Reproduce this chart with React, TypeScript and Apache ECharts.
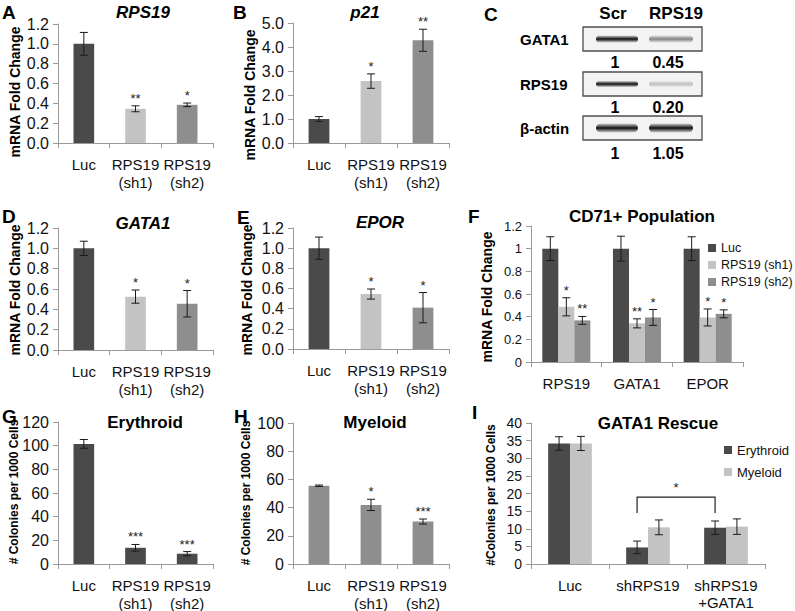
import React, { useEffect, useRef } from "react";
import * as echarts from "echarts";

const FONT = "'Liberation Sans', Arial, Helvetica, sans-serif";

// ---------- data ----------
const catsSh = ["Luc", "RPS19\n(sh1)", "RPS19\n(sh2)"];

// A: RPS19
const aMeans = [1.0, 0.345, 0.385];
const aErrs = [0.115, 0.03, 0.018];
const aStars = ["", "**", "*"];
// B: p21
const bMeans = [1.0, 2.58, 4.28];
const bErrs = [0.1, 0.3, 0.46];
const bStars = ["", "*", "**"];
// C: western blot
const blotLanes = ["Scr", "RPS19"];
const blotRows = ["GATA1", "RPS19", "β-actin"];
const blotQuant = [
  [1, 0.45],
  [1, 0.2],
  [1, 1.05],
];
const blotQuantLabels = [
  ["1", "0.45"],
  ["1", "0.20"],
  ["1", "1.05"],
];
// D: GATA1
const dMeans = [1.0, 0.525, 0.455];
const dErrs = [0.07, 0.065, 0.13];
const dStars = ["", "*", "*"];
// E: EPOR
const eMeans = [1.0, 0.545, 0.41];
const eErrs = [0.11, 0.05, 0.15];
const eStars = ["", "*", "*"];
// F: CD71+ population
const fCats = ["RPS19", "GATA1", "EPOR"];
const fNames = ["Luc", "RPS19 (sh1)", "RPS19 (sh2)"];
const fLuc = [1.0, 1.0, 1.0];
const fLucErr = [0.105, 0.11, 0.105];
const fSh1 = [0.487, 0.341, 0.393];
const fSh1Err = [0.08, 0.04, 0.075];
const fSh2 = [0.367, 0.393, 0.425];
const fSh2Err = [0.035, 0.07, 0.035];
const fSh1Stars = ["*", "**", "*"];
const fSh2Stars = ["**", "*", "*"];
// G: Erythroid
const gMeans = [101.5, 13.7, 8.7];
const gErrs = [3.7, 2.8, 1.8];
const gStars = ["", "***", "***"];
// H: Myeloid
const hMeans = [55.5, 41.9, 30.1];
const hErrs = [0.5, 4.0, 1.8];
const hStars = ["", "*", "***"];
// I: GATA1 rescue
const iCats = ["Luc", "shRPS19", "shRPS19\n+GATA1"];
const iNames = ["Erythroid", "Myeloid"];
const iEry = [34.2, 4.7, 10.3];
const iEryErr = [1.9, 1.8, 1.9];
const iMye = [34.2, 10.4, 10.6];
const iMyeErr = [2.0, 2.1, 2.2];
const iBracket = [1, 2, 19, 14.5]; // from category, to category, top value, leg value
const iBracketStar = "*";

// ---------- styles ----------
const DARK = "#4a4a4a";
const LIGHT = "#c3c3c3";
const MID = "#8e8e8e";
const AXIS = "#9a9a9a";

function xAx(gi: number, cats: string[], fontSize = 15, margin = 12, lineHeight = 18) {
  return {
    type: "category",
    gridIndex: gi,
    data: cats,
    axisLine: { show: true, lineStyle: { color: AXIS, width: 1 } },
    axisTick: { show: true, length: 5, lineStyle: { color: AXIS } },
    axisLabel: { color: "#111", fontSize, fontFamily: FONT, margin, lineHeight, interval: 0 },
    splitLine: { show: false },
  };
}

function yAx(gi: number, max: number, interval: number, fmt: (v: number) => string, fontSize = 16) {
  return {
    type: "value",
    gridIndex: gi,
    min: 0,
    max,
    interval,
    axisLine: { show: true, lineStyle: { color: AXIS, width: 1 } },
    axisTick: { show: true, length: 5, lineStyle: { color: AXIS } },
    splitLine: { show: false },
    axisLabel: { color: "#111", fontSize, fontFamily: FONT, margin: 9, formatter: fmt },
  };
}

const fmt1 = (v: number) => v.toFixed(1);
const fmtN = (v: number) => String(+v.toFixed(1));
const fmt0 = (v: number) => String(Math.round(v));

function singleBar(gi: number, name: string, means: number[], colors: string[], gap: string) {
  return {
    type: "bar",
    name,
    xAxisIndex: gi,
    yAxisIndex: gi,
    barCategoryGap: gap,
    data: means.map((v, i) => ({ value: v, itemStyle: { color: colors[i] } })),
  };
}

function groupBar(gi: number, name: string, means: number[], color: string, gap: string) {
  return {
    type: "bar",
    name,
    xAxisIndex: gi,
    yAxisIndex: gi,
    barCategoryGap: gap,
    barGap: "0%",
    itemStyle: { color },
    data: means,
  };
}

function errSeries(
  gi: number,
  name: string,
  means: number[],
  errs: number[],
  stars: string[],
  sIdx = 0,
  nS = 1,
  gapFrac = 0.6,
  starSize = 13
) {
  return {
    type: "custom",
    name,
    xAxisIndex: gi,
    yAxisIndex: gi,
    z: 10,
    silent: true,
    data: means.map((m, i) => [i, m - errs[i], m + errs[i]]),
    renderItem: (params: any, api: any) => {
      const ci = api.value(0);
      const lo = api.coord([ci, api.value(1)]);
      const hi = api.coord([ci, api.value(2)]);
      const band = api.size([1, 0])[0];
      const bw = (band * (1 - gapFrac)) / nS;
      const x = lo[0] + (sIdx - (nS - 1) / 2) * bw;
      const cap = 4;
      const st = { stroke: "#1a1a1a", lineWidth: 1 };
      const children: any[] = [
        { type: "line", shape: { x1: x, y1: lo[1], x2: x, y2: hi[1] }, style: st },
        { type: "line", shape: { x1: x - cap, y1: hi[1], x2: x + cap, y2: hi[1] }, style: st },
        { type: "line", shape: { x1: x - cap, y1: lo[1], x2: x + cap, y2: lo[1] }, style: st },
      ];
      const s = stars[params.dataIndex];
      if (s) {
        children.push({
          type: "text",
          style: {
            text: s,
            x,
            y: hi[1] - 1,
            align: "center",
            verticalAlign: "bottom",
            font: `${starSize}px ${FONT}`,
            fill: "#222",
          },
        });
      }
      return { type: "group", children };
    },
  };
}

function bracketSeries(gi: number, spec: number[], star: string, nS: number, gapFrac: number) {
  return {
    type: "custom",
    name: "bracket",
    xAxisIndex: gi,
    yAxisIndex: gi,
    z: 11,
    silent: true,
    data: [spec],
    renderItem: (params: any, api: any) => {
      const band = api.size([1, 0])[0];
      const bw = (band * (1 - gapFrac)) / nS;
      const off = (0 - (nS - 1) / 2) * bw;
      const p1 = api.coord([api.value(0), api.value(2)]);
      const p2 = api.coord([api.value(1), api.value(2)]);
      const leg = api.coord([api.value(0), api.value(3)]);
      const x1 = p1[0] + off;
      const x2 = p2[0] + off;
      return {
        type: "group",
        children: [
          {
            type: "polyline",
            shape: { points: [[x1, leg[1]], [x1, p1[1]], [x2, p1[1]], [x2, leg[1]]] },
            style: { stroke: "#222", lineWidth: 1.2, fill: null },
          },
          {
            type: "text",
            style: {
              text: star,
              x: (x1 + x2) / 2,
              y: p1[1] - 3,
              align: "center",
              verticalAlign: "bottom",
              font: `13px ${FONT}`,
              fill: "#222",
            },
          },
        ],
      };
    },
  };
}

function txt(text: string, x: number, y: number, font: string, align = "center", rotation = 0, vAlign = "middle") {
  return {
    type: "text",
    x,
    y,
    rotation,
    silent: true,
    style: { text, font, fill: "#000", align, verticalAlign: vAlign },
  };
}

function blotGraphics() {
  const els: any[] = [];
  const boxX = 583;
  const boxW = 119;
  const boxH = 24;
  const rowTop = [27, 72, 116];
  const quantY = [62, 107, 153];
  const laneX = [617, 671];
  const headX = [613, 676];
  const quantX = [615, 668];
  const bandW = [42, 44];
  const bandH = [7, 6, 9];
  blotLanes.forEach((l, j) => els.push(txt(l, headX[j], 13, `bold 17px ${FONT}`)));
  blotRows.forEach((r, i) => {
    const top = rowTop[i];
    els.push(txt(r, 520, top + 12, `bold 15px ${FONT}`, "left"));
    els.push({
      type: "rect",
      silent: true,
      shape: { x: boxX, y: top, width: boxW, height: boxH },
      style: { fill: "#f3f3f3", stroke: "#4d4d4d", lineWidth: 1.3 },
    });
    blotQuant[i].forEach((q, j) => {
      const a = Math.min(1, Math.pow(q, 0.9));
      const dark = `rgba(15,15,15,${a})`;
      const edge = `rgba(15,15,15,${a * 0.15})`;
      els.push({
        type: "rect",
        silent: true,
        shape: {
          x: laneX[j] - bandW[j] / 2,
          y: top + boxH / 2 - bandH[i] / 2,
          width: bandW[j],
          height: bandH[i],
          r: bandH[i] / 2,
        },
        style: {
          fill: new echarts.graphic.LinearGradient(0, 0, 0, 1, [
            { offset: 0, color: edge },
            { offset: 0.5, color: dark },
            { offset: 1, color: edge },
          ]),
        },
      });
      els.push(txt(blotQuantLabels[i][j], quantX[j], quantY[i], `bold 16px ${FONT}`));
    });
  });
  return els;
}

export default function App() {
  const ref = useRef<HTMLDivElement>(null);
  useEffect(() => {
    if (!ref.current) return;
    const chart = echarts.init(ref.current, undefined, { renderer: "svg" });
    const grids = [
      { left: 58, top: 24, width: 155, height: 119 }, // A
      { left: 293, top: 23, width: 156, height: 120 }, // B
      { left: 58, top: 228, width: 155, height: 122 }, // D
      { left: 293, top: 228, width: 156, height: 121 }, // E
      { left: 531, top: 226, width: 212, height: 136 }, // F
      { left: 58, top: 422, width: 155, height: 142 }, // G
      { left: 293, top: 423, width: 156, height: 141 }, // H
      { left: 531, top: 423, width: 234, height: 141 }, // I
    ].map((g) => ({ ...g, containLabel: false, outerBoundsMode: "none" }));

    const shColors = [DARK, LIGHT, MID];
    const titleFont = `italic bold 17px ${FONT}`;
    const boldTitle = `bold 17px ${FONT}`;
    const letterFont = `bold 19px ${FONT}`;
    const yNameFont = `bold 14px ${FONT}`;
    const colNameFont = `bold 12px ${FONT}`;
    const R = Math.PI / 2;

    const graphic = [
      // panel letters
      txt("A", 2, 3, letterFont, "left", 0, "top"),
      txt("B", 233, 3, letterFont, "left", 0, "top"),
      txt("C", 484, 5, letterFont, "left", 0, "top"),
      txt("D", 2, 207, letterFont, "left", 0, "top"),
      txt("E", 237, 208, letterFont, "left", 0, "top"),
      txt("F", 468, 207, letterFont, "left", 0, "top"),
      txt("G", 2, 407, letterFont, "left", 0, "top"),
      txt("H", 234, 407, letterFont, "left", 0, "top"),
      txt("I", 472, 403, letterFont, "left", 0, "top"),
      // titles
      txt("RPS19", 143, 12, titleFont),
      txt("p21", 365, 12, titleFont),
      txt("GATA1", 143, 223, titleFont),
      txt("EPOR", 380, 222, titleFont),
      txt("CD71+ Population", 642, 216, boldTitle),
      txt("Erythroid", 145, 422, boldTitle),
      txt("Myeloid", 375, 422, boldTitle),
      txt("GATA1 Rescue", 658, 423, boldTitle),
      // y axis names
      txt("mRNA Fold Change", 15, 92, yNameFont, "center", R),
      txt("mRNA Fold Change", 250, 95, yNameFont, "center", R),
      txt("mRNA Fold Change", 15, 290, yNameFont, "center", R),
      txt("mRNA Fold Change", 247, 290, yNameFont, "center", R),
      txt("mRNA Fold Change", 487, 297, yNameFont, "center", R),
      txt("# Colonies per 1000 Cells", 14, 492, colNameFont, "center", R),
      txt("# Colonies per 1000 Cells", 246, 493, colNameFont, "center", R),
      txt("#Colonies per 1000 Cells", 491, 495, colNameFont, "center", R),
      ...blotGraphics(),
    ];

    const option: any = {
      animation: false,
      backgroundColor: "#ffffff",
      textStyle: { fontFamily: FONT },
      grid: grids,
      xAxis: [
        xAx(0, catsSh),
        xAx(1, catsSh),
        xAx(2, catsSh),
        xAx(3, catsSh),
        xAx(4, fCats, 15, 12),
        xAx(5, catsSh),
        xAx(6, catsSh),
        xAx(7, iCats, 15, 13, 17),
      ],
      yAxis: [
        yAx(0, 1.2, 0.2, fmt1),
        yAx(1, 5, 1, fmt1),
        yAx(2, 1.2, 0.2, fmt1),
        yAx(3, 1.2, 0.2, fmt1),
        yAx(4, 1.2, 0.2, fmtN, 13),
        yAx(5, 120, 20, fmt0),
        yAx(6, 100, 20, fmt0),
        yAx(7, 40, 5, fmt0, 14),
      ],
      legend: [
        {
          data: fNames,
          orient: "vertical",
          left: 708,
          top: 241,
          itemWidth: 8,
          itemHeight: 8,
          itemGap: 3,
          icon: "rect",
          padding: 0,
          textStyle: { fontSize: 12.5, fontFamily: FONT, color: "#111", lineHeight: 14 },
        },
        {
          data: iNames,
          orient: "vertical",
          left: 724,
          top: 443,
          itemWidth: 8,
          itemHeight: 8,
          itemGap: 8,
          icon: "rect",
          padding: 0,
          textStyle: { fontSize: 13, fontFamily: FONT, color: "#111", lineHeight: 14 },
        },
      ],
      graphic,
      series: [
        singleBar(0, "A bars", aMeans, shColors, "60%"),
        errSeries(0, "A err", aMeans, aErrs, aStars),
        singleBar(1, "B bars", bMeans, shColors, "60%"),
        errSeries(1, "B err", bMeans, bErrs, bStars),
        singleBar(2, "D bars", dMeans, shColors, "60%"),
        errSeries(2, "D err", dMeans, dErrs, dStars),
        singleBar(3, "E bars", eMeans, shColors, "60%"),
        errSeries(3, "E err", eMeans, eErrs, eStars),
        groupBar(4, fNames[0], fLuc, DARK, "32%"),
        groupBar(4, fNames[1], fSh1, LIGHT, "32%"),
        groupBar(4, fNames[2], fSh2, MID, "32%"),
        errSeries(4, "F err0", fLuc, fLucErr, ["", "", ""], 0, 3, 0.32),
        errSeries(4, "F err1", fSh1, fSh1Err, fSh1Stars, 1, 3, 0.32),
        errSeries(4, "F err2", fSh2, fSh2Err, fSh2Stars, 2, 3, 0.32),
        singleBar(5, "G bars", gMeans, [DARK, DARK, DARK], "60%"),
        errSeries(5, "G err", gMeans, gErrs, gStars),
        singleBar(6, "H bars", hMeans, [MID, MID, MID], "60%"),
        errSeries(6, "H err", hMeans, hErrs, hStars),
        groupBar(7, iNames[0], iEry, DARK, "44%"),
        groupBar(7, iNames[1], iMye, LIGHT, "44%"),
        errSeries(7, "I err0", iEry, iEryErr, ["", "", ""], 0, 2, 0.44),
        errSeries(7, "I err1", iMye, iMyeErr, ["", "", ""], 1, 2, 0.44),
        bracketSeries(7, iBracket, iBracketStar, 2, 0.44),
      ],
    };
    chart.setOption(option);
    return () => chart.dispose();
  }, []);
  return (
    <div
      ref={ref}
      style={{ position: "absolute", left: 0, top: 0, width: 795, height: 611, background: "#fff" }}
    />
  );
}
